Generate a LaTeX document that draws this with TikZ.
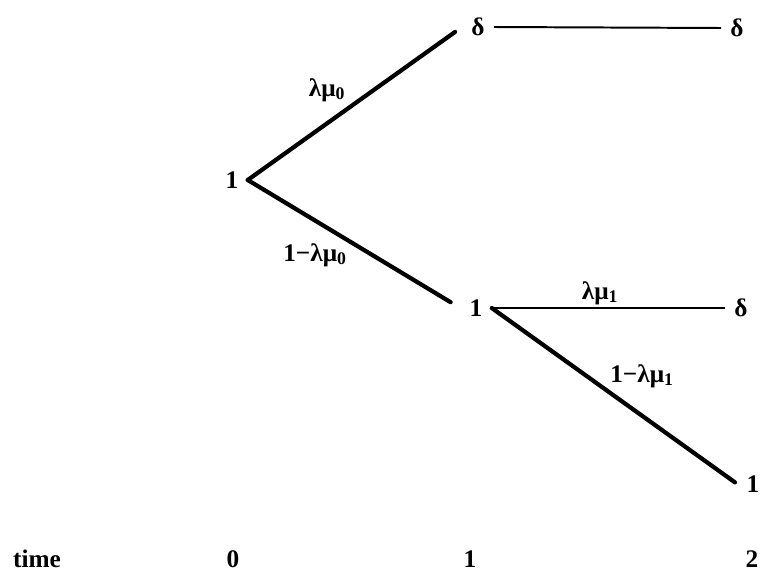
\documentclass[tikz,border=0pt]{standalone}
\usepackage{fontspec}
\setmainfont{Liberation Serif}
\begin{document}
\begin{tikzpicture}[
    x=0.025cm, y=-0.025cm,
    every node/.style={font=\fontsize{18}{20}\selectfont\bfseries},
    state/.style={inner sep=6.5pt},
    prob/.style={inner sep=1pt},
    branch/.style={line width=3pt, line cap=round},
    flat/.style={line width=1.8pt}
]
\useasboundingbox (0,0) rectangle (760,573);

% States
\node[state] (root)   at (232,180) {1};
\node[state] (up)     at (478,27)  {δ};
\node[state] (upend)  at (737,28)  {δ};
\node[state] (mid)    at (476,308) {1};
\node[state] (midend) at (741,308) {δ};
\node[state] (low)    at (753,484) {1};

% Branches
\draw[branch, shorten >=6pt] (root.east) -- (up.west);
\draw[branch, shorten >=8pt] (root.east) -- (mid.west);
\draw[flat, line width=1.4pt] (up.east) -- (upend.west);
\draw[flat] (mid.east) -- (midend.west);
\draw[branch, shorten >=2pt] (mid.east) -- (low.west);

% Probabilities
\node[prob] (p0)  at (327,90)  {λμ\textsubscript{0}};
\node[prob] (q0)  at (315,255) {1−λμ\textsubscript{0}};
\node[prob] (p1)  at (600,293) {λμ\textsubscript{1}};
\node[prob] (q1)  at (642,376) {1−λμ\textsubscript{1}};

% Time axis
\node (time) at (37,559)  {time};
\node (t0)   at (233,559) {0};
\node (t1)   at (470,559) {1};
\node (t2)   at (752,559) {2};

\end{tikzpicture}
\end{document}
